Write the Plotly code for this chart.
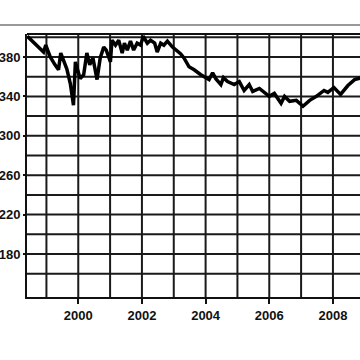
import plotly.graph_objects as go

years = [1998.40, 1998.91, 1998.98, 1999.12, 1999.27, 1999.38, 1999.45, 1999.56, 1999.64, 1999.75,
         1999.85, 1999.91, 1999.98, 2000.06, 2000.17, 2000.27, 2000.36, 2000.46, 2000.59, 2000.69,
         2000.80, 2000.88, 2001.01, 2001.06, 2001.17, 2001.27, 2001.38, 2001.45, 2001.54, 2001.64,
         2001.74, 2001.85, 2001.96, 2002.04, 2002.17, 2002.27, 2002.40, 2002.48, 2002.59, 2002.69,
         2002.80, 2002.96, 2003.22, 2003.32, 2003.48, 2003.64, 2003.85, 2004.11, 2004.22, 2004.32,
         2004.48, 2004.56, 2004.69, 2004.90, 2005.06, 2005.21, 2005.37, 2005.48, 2005.69, 2006.00,
         2006.16, 2006.37, 2006.48, 2006.64, 2006.85, 2007.06, 2007.27, 2007.48, 2007.72, 2007.84,
         2008.03, 2008.24, 2008.47, 2008.68, 2008.90]
values = [401, 385, 392, 380, 372, 367, 384, 375, 368, 353,
          331, 375, 368, 358, 362, 384, 372, 379, 357, 379,
          390, 387, 375, 397, 392, 397, 384, 394, 387, 396,
          387, 394, 392, 401, 394, 397, 394, 385, 394, 392,
          396, 390, 383, 379, 370, 367, 362, 357, 364, 358,
          352, 359, 355, 352, 355, 346, 352, 345, 348, 340,
          343, 333, 340, 335, 336, 330, 336, 340, 346, 344,
          349, 342, 351, 357, 359]

x_labels = [2000, 2002, 2004, 2006, 2008]
y_labels = [380, 340, 300, 260, 220, 180]
y_grid = [160, 180, 200, 220, 240, 260, 280, 300, 320, 340, 360, 380, 400]
x_grid = [1999, 2000, 2001, 2002, 2003, 2004, 2005, 2006, 2007, 2008]

fig = go.Figure()
fig.add_trace(go.Scatter(x=years, y=values, mode="lines",
                         line=dict(color="black", width=3.5), hoverinfo="skip"))

grid_color = "#1a1a1a"
shapes = []
for gx in x_grid:
    shapes.append(dict(type="line", xref="x", yref="paper", x0=gx, x1=gx, y0=0, y1=1,
                       line=dict(color=grid_color, width=2), layer="below"))
for gy in y_grid:
    shapes.append(dict(type="line", xref="paper", yref="y", x0=0, x1=1, y0=gy, y1=gy,
                       line=dict(color=grid_color, width=2), layer="below"))
# top border and gray rule above the plot
shapes.append(dict(type="line", xref="paper", yref="paper", x0=0, x1=1, y0=1, y1=1,
                   line=dict(color="#111", width=2)))
shapes.append(dict(type="line", xref="paper", yref="paper", x0=-27/333, x1=1.0,
                   y0=1 + 9/263, y1=1 + 9/263, line=dict(color="#777", width=1.5)))

fig.update_layout(
    width=360, height=360,
    margin=dict(l=27, r=0, t=34, b=63),
    paper_bgcolor="white", plot_bgcolor="white",
    showlegend=False,
    shapes=shapes,
    font=dict(family="Liberation Sans, Arial, sans-serif", size=13, color="#111"),
    xaxis=dict(range=[1998.39, 2008.85], tickvals=x_labels,
               ticktext=[f"<b>{v}</b>" for v in x_labels],
               showgrid=False, zeroline=False,
               showline=True, linecolor="#111", linewidth=2,
               ticks="outside", ticklen=5, tickwidth=2, tickcolor="#111"),
    yaxis=dict(range=[136.4, 403.3], tickvals=y_labels,
               ticktext=[f"<b>{v}</b>" for v in y_labels],
               showgrid=False, zeroline=False,
               showline=True, linecolor="#111", linewidth=2,
               ticks="outside", ticklen=2, tickwidth=2, tickcolor="#111"),
)

fig.write_html("out.html")
